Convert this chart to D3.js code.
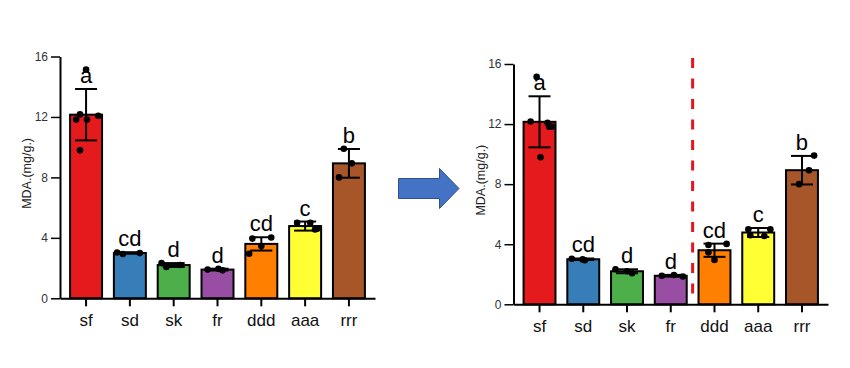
<!DOCTYPE html>
<html lang="en">
  <head>
    <meta charset="utf-8">
    <title>MDA bar charts</title>
    <script src="https://d3js.org/d3.v7.min.js"></script>
    <style>
      body { margin: 0; background: #fff; }
      svg text { font-family: "Liberation Sans", Arial, sans-serif; }
    </style>
  </head>
  <body>
    <svg width="850" height="368"></svg>

    <script>
    // data
    var categories = ["sf", "sd", "sk", "fr", "ddd", "aaa", "rrr"];
    var means = [12.15, 3.0, 2.2, 1.9, 3.6, 4.78, 8.93];
    var sds = [1.7, 0.05, 0.13, 0.06, 0.44, 0.3, 0.95];
    var letters = ["a", "cd", "d", "d", "cd", "c", "b"];
    var points = [
      [15.14, 12.17, 11.83, 11.83, 12.08, 9.79],
      [3.03, 2.93, 2.99],
      [2.33, 2.07, 2.2],
      [1.9, 1.95, 1.85],
      [3.95, 3.46, 4.02, 2.95],
      [5.0, 5.0, 4.55, 4.6],
      [9.9, 8.93, 8.0]
    ];
    var yTicks = [0, 4, 8, 12, 16];
    var yLabel = "MDA.(mg/g.)";

    // horizontal jitter of the dots, as a fraction of bar width
    var jitterLeft = [
      [0, -0.19, -0.31, 0.03, 0.38, -0.19],
      [-0.4, -0.22, 0.31],
      [-0.38, -0.23, 0.2],
      [-0.31, 0.03, 0.16],
      [-0.28, 0, 0.31, -0.38],
      [-0.25, 0.16, 0.31, 0.38],
      [-0.16, 0.09, -0.31]
    ];
    var jitterRight = [
      [-0.09, -0.28, 0.38, 0.3, 0.25, 0.03],
      [-0.36, 0.05, -0.02],
      [-0.36, 0.16, 0.0],
      [-0.28, 0.1, 0.38],
      [-0.19, -0.19, 0.38, 0.0],
      [-0.31, 0.38, 0.19, -0.25],
      [0.38, 0.22, -0.09]
    ];

    var colors = d3.schemeSet1.slice(0, 7);

    var svg = d3.select("svg");

    function drawPanel(p) {
      var g = svg.append("g");

      var x = d3.scaleBand()
          .domain(categories)
          .range([p.x0, p.x1])
          .paddingInner(0.27)
          .paddingOuter(0.23);

      var y = d3.scaleLinear()
          .domain([0, 16])
          .range([p.yBottom, p.yTop]);

      var bw = x.bandwidth();

      // bars
      g.selectAll(".bar")
          .data(categories)
        .enter().append("rect")
          .attr("x", function(d) { return x(d); })
          .attr("y", function(d, i) { return y(means[i]); })
          .attr("width", bw)
          .attr("height", function(d, i) { return y(0) - y(means[i]); })
          .attr("fill", function(d, i) { return colors[i]; })
          .attr("stroke", "#000")
          .attr("stroke-width", 2);

      // error bars
      var eb = g.selectAll(".err")
          .data(categories)
        .enter().append("g")
          .attr("stroke", "#000")
          .attr("stroke-width", 2);
      eb.append("line")
          .attr("x1", function(d) { return x(d) + bw / 2; })
          .attr("x2", function(d) { return x(d) + bw / 2; })
          .attr("y1", function(d, i) { return y(means[i] - sds[i]); })
          .attr("y2", function(d, i) { return y(means[i] + sds[i]); });
      [-1, 1].forEach(function(s) {
        eb.append("line")
            .attr("x1", function(d) { return x(d) + bw / 2 - 11; })
            .attr("x2", function(d) { return x(d) + bw / 2 + 11; })
            .attr("y1", function(d, i) { return y(means[i] + s * sds[i]); })
            .attr("y2", function(d, i) { return y(means[i] + s * sds[i]); });
      });

      // dots
      categories.forEach(function(c, i) {
        g.selectAll(".pt" + i)
            .data(points[i])
          .enter().append("circle")
            .attr("cx", function(v, k) { return x(c) + bw / 2 + p.jitter[i][k] * bw; })
            .attr("cy", function(v) { return y(v); })
            .attr("r", 3.3)
            .attr("fill", "#000");
      });

      // significance letters
      g.selectAll(".letter")
          .data(categories)
        .enter().append("text")
          .attr("x", function(d) { return x(d) + bw / 2; })
          .attr("y", function(d, i) { return y(means[i] + sds[i]) - 6; })
          .attr("text-anchor", "middle")
          .attr("font-size", 22)
          .text(function(d, i) { return letters[i]; });

      // axes
      var xAxis = g.append("g")
          .attr("transform", "translate(0," + p.yBottom + ")")
          .call(d3.axisBottom(x).tickSize(8).tickSizeOuter(0).tickPadding(8));
      xAxis.select(".domain").attr("stroke-width", 2);
      xAxis.selectAll(".tick line").attr("stroke-width", 2);
      xAxis.selectAll("text").attr("font-size", 17).attr("fill", "#111")
          .attr("font-family", "Liberation Sans, Arial, sans-serif");

      var yAxis = g.append("g")
          .attr("transform", "translate(" + p.x0 + ",0)")
          .call(d3.axisLeft(y).tickValues(yTicks).tickSize(9).tickSizeOuter(0).tickPadding(3));
      yAxis.select(".domain").attr("stroke-width", 2);
      yAxis.selectAll(".tick line").attr("stroke-width", 1.5);
      yAxis.selectAll("text").attr("font-size", 12).attr("fill", "#333")
          .attr("font-family", "Liberation Sans, Arial, sans-serif");

      g.append("text")
          .attr("transform", "translate(" + (p.x0 - 33) + "," + ((p.yTop + p.yBottom) / 2 - 4) + ") rotate(-90)")
          .attr("text-anchor", "middle")
          .attr("dy", "0.35em")
          .attr("font-size", 12.5)
          .attr("fill", "#222")
          .text(yLabel);

      return x;
    }

    drawPanel({ x0: 60, x1: 375, yTop: 56.5, yBottom: 298.3, jitter: jitterLeft });
    var xr = drawPanel({ x0: 513.5, x1: 828, yTop: 64, yBottom: 304.3, jitter: jitterRight });

    // red dashed divider between fr and ddd on the right panel
    var divX = (xr("fr") + xr.bandwidth() + xr("ddd")) / 2;
    svg.append("line")
        .attr("x1", divX).attr("x2", divX)
        .attr("y1", 58).attr("y2", 304)
        .attr("stroke", "#e8141c")
        .attr("stroke-width", 3)
        .attr("stroke-dasharray", "10,10.5");

    // blue arrow between the panels
    svg.append("path")
        .attr("d", "M398.5,178.5 L439.5,178.5 L439.5,168.5 L459,188.5 L439.5,208.5 L439.5,198.5 L398.5,198.5 Z")
        .attr("fill", "#4472c4")
        .attr("stroke", "#2f528f")
        .attr("stroke-width", 1);
    </script>
  </body>
</html>
